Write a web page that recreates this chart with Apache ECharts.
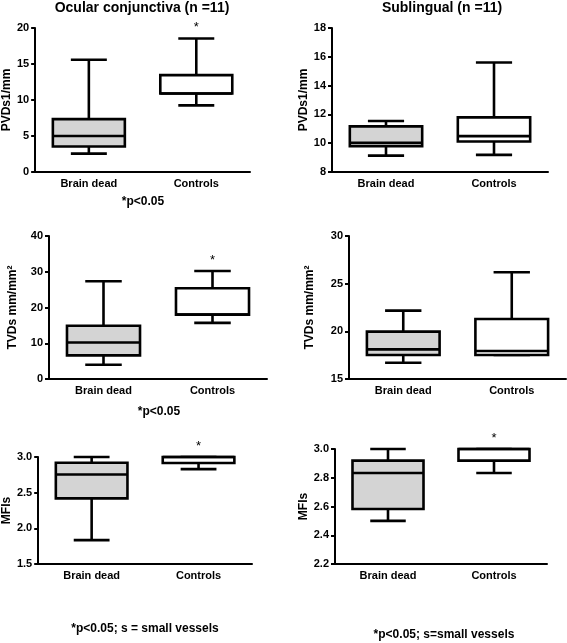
<!DOCTYPE html>
<html>
<head>
<meta charset="utf-8">
<script src="https://cdn.jsdelivr.net/npm/echarts@6/dist/echarts.min.js"></script>
<style>
html,body{margin:0;padding:0;background:#fff;}
#chart{width:567px;height:643px;}
</style>
</head>
<body>
<div id="chart"></div>
<script>
// ---- data: [min, Q1, median, Q3, max] per group ----
const categories = ['Brain dead', 'Controls'];
const groupFills = ['#d4d4d4', '#ffffff'];

const pvdOcular     = [[2.55, 3.55, 5.0, 7.35, 15.6], [9.25, 10.9, 10.9, 13.45, 18.55]];
const pvdSublingual = [[9.14, 9.79, 10.02, 11.17, 11.54], [9.19, 10.12, 10.49, 11.79, 15.6]];
const tvdOcular     = [[4.0, 6.6, 10.2, 14.9, 27.35], [15.7, 18.0, 18.0, 25.4, 30.2]];
const tvdSublingual = [[16.71, 17.52, 18.11, 19.97, 22.17], [17.52, 17.52, 17.94, 21.29, 26.19]];
const mfiOcular     = [[1.835, 2.42, 2.755, 2.92, 3.0], [2.83, 2.915, 3.0, 3.0, 3.0]];
const mfiSublingual = [[2.5, 2.583, 2.833, 2.919, 3.0], [2.833, 2.919, 3.0, 3.0, 3.0]];

// significance marks (Controls vs Brain dead)
const sigOcularPVD = [false, true];
const sigSublingualPVD = [false, false];
const sigOcularTVD = [false, true];
const sigSublingualTVD = [false, false];
const sigOcularMFI = [false, true];
const sigSublingualMFI = [false, true];

// axis tick settings
const yAxesSpec = [
  {name: 'PVDs1/mm', min: 0, max: 20, interval: 5, dec: 0},
  {name: 'PVDs1/mm', min: 8, max: 18, interval: 2, dec: 0},
  {name: 'TVDs mm/mm²', min: 0, max: 40, interval: 10, dec: 0},
  {name: 'TVDs mm/mm²', min: 15, max: 30, interval: 5, dec: 0},
  {name: 'MFIs', min: 1.5, max: 3.0, interval: 0.5, dec: 1},
  {name: 'MFIs', min: 2.2, max: 3.0, interval: 0.2, dec: 1}
];
const panelData = [pvdOcular, pvdSublingual, tvdOcular, tvdSublingual, mfiOcular, mfiSublingual];
const panelSig = [sigOcularPVD, sigSublingualPVD, sigOcularTVD, sigSublingualTVD, sigOcularMFI, sigSublingualMFI];

// ---- layout ----
const FONT = "'Liberation Sans', Arial, Helvetica, sans-serif";
const grids = [
  {left: 35,  top: 28,  width: 215, height: 144, nameGap: 20},
  {left: 332, top: 28,  width: 216, height: 144, nameGap: 20},
  {left: 49,  top: 236, width: 218, height: 143, nameGap: 30},
  {left: 349, top: 236, width: 217, height: 143, nameGap: 33},
  {left: 36,  top: 457, width: 216, height: 107, nameGap: 22},
  {left: 335, top: 449, width: 212, height: 115, nameGap: 22}
];

const chart = echarts.init(document.getElementById('chart'), null, {renderer: 'canvas'});

function makeRender(panelIdx) {
  return function (params, api) {
    const xi = api.value(0);
    const pMin = api.coord([xi, api.value(1)]);
    const pQ1 = api.coord([xi, api.value(2)]);
    const pMed = api.coord([xi, api.value(3)]);
    const pQ3 = api.coord([xi, api.value(4)]);
    const pMax = api.coord([xi, api.value(5)]);
    const cx = pMin[0];
    const bw = api.size([1, 0])[0] * 0.67;
    const half = bw / 2, cap = bw / 4;
    const ls = {stroke: '#000', lineWidth: 2.6};
    const children = [
      {type: 'line', shape: {x1: cx, y1: pQ3[1], x2: cx, y2: pMax[1]}, style: ls},
      {type: 'line', shape: {x1: cx, y1: pQ1[1], x2: cx, y2: pMin[1]}, style: ls},
      {type: 'line', shape: {x1: cx - cap, y1: pMax[1], x2: cx + cap, y2: pMax[1]}, style: ls},
      {type: 'line', shape: {x1: cx - cap, y1: pMin[1], x2: cx + cap, y2: pMin[1]}, style: ls},
      {type: 'rect', shape: {x: cx - half, y: pQ3[1], width: bw, height: pQ1[1] - pQ3[1]},
        style: {fill: groupFills[xi], stroke: '#000', lineWidth: 2.6}},
      {type: 'line', shape: {x1: cx - half, y1: pMed[1], x2: cx + half, y2: pMed[1]}, style: ls}
    ];
    if (panelSig[panelIdx][xi]) {
      children.push({type: 'text', style: {text: '*', x: cx, y: pMax[1] - 11,
        fill: '#000', font: '13px ' + FONT, textAlign: 'center', textVerticalAlign: 'middle'}});
    }
    return {type: 'group', children: children};
  };
}

const option = {
  animation: false,
  backgroundColor: '#fff',
  grid: grids.map(g => ({left: g.left, top: g.top, width: g.width, height: g.height})),
  xAxis: grids.map((g, i) => ({
    type: 'category', gridIndex: i, data: categories, boundaryGap: true,
    axisLine: {lineStyle: {color: '#000', width: 2}},
    axisTick: {alignWithLabel: true, length: 5, lineStyle: {color: '#000', width: 2}},
    axisLabel: {color: '#000', fontWeight: 'bold', fontSize: 11, fontFamily: FONT, margin: 6},
    splitLine: {show: false}
  })),
  yAxis: yAxesSpec.map((s, i) => ({
    type: 'value', gridIndex: i, min: s.min, max: s.max, interval: s.interval,
    name: s.name, nameLocation: 'middle', nameGap: grids[i].nameGap,
    nameTextStyle: {color: '#000', fontWeight: 'bold', fontSize: 12, fontFamily: FONT},
    axisLine: {show: true, lineStyle: {color: '#000', width: 2}},
    axisTick: {show: true, length: 4, lineStyle: {color: '#000', width: 2}},
    axisLabel: {color: '#000', fontWeight: 'bold', fontSize: 11, fontFamily: FONT, margin: 6,
      formatter: v => v.toFixed(s.dec)},
    splitLine: {show: false}
  })),
  series: panelData.map((d, i) => ({
    type: 'custom', xAxisIndex: i, yAxisIndex: i, clip: false,
    renderItem: makeRender(i),
    encode: {x: 0, y: [1, 2, 3, 4, 5]},
    data: d.map((v, k) => [k].concat(v))
  })),
  graphic: [
    {type: 'text', style: {text: 'Ocular conjunctiva (n =11)', x: 142, y: 8,
      textAlign: 'center', textVerticalAlign: 'middle', fill: '#000', font: 'bold 14px ' + FONT}},
    {type: 'text', style: {text: 'Sublingual (n =11)', x: 442, y: 8,
      textAlign: 'center', textVerticalAlign: 'middle', fill: '#000', font: 'bold 14px ' + FONT}},
    {type: 'text', style: {text: '*p<0.05', x: 143, y: 202,
      textAlign: 'center', textVerticalAlign: 'middle', fill: '#000', font: 'bold 12px ' + FONT}},
    {type: 'text', style: {text: '*p<0.05', x: 159, y: 412,
      textAlign: 'center', textVerticalAlign: 'middle', fill: '#000', font: 'bold 12px ' + FONT}},
    {type: 'text', style: {text: '*p<0.05; s = small vessels', x: 145, y: 629,
      textAlign: 'center', textVerticalAlign: 'middle', fill: '#000', font: 'bold 12px ' + FONT}},
    {type: 'text', style: {text: '*p<0.05; s=small vessels', x: 444, y: 635,
      textAlign: 'center', textVerticalAlign: 'middle', fill: '#000', font: 'bold 12px ' + FONT}}
  ]
};
chart.setOption(option);
</script>
</body>
</html>
